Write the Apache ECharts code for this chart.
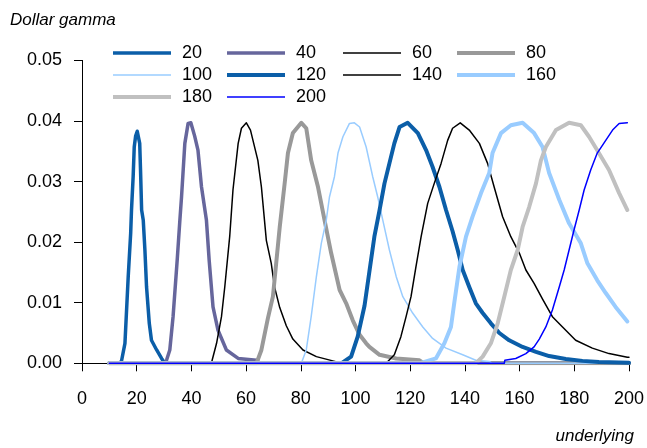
<!DOCTYPE html>
<html>
<head>
<meta charset="utf-8">
<script src="https://cdn.jsdelivr.net/npm/echarts@6/dist/echarts.min.js"></script>
<style>
html,body{margin:0;padding:0;background:#fff;}
#c{width:647px;height:448px;}
</style>
</head>
<body>
<div id="c"></div>
<script>
const xTicks = [0,20,40,60,80,100,120,140,160,180,200];
const yTicks = [0,0.01,0.02,0.03,0.04,0.05];
const seriesNames = ['20','40','60','80','100','120','140','160','180','200'];

const s20 = [[10,0],[14,0],[14.5,0.0005],[15.7,0.0033],[16.3,0.0088],[16.9,0.0143],[17.8,0.0215],[18.1,0.0253],[18.7,0.0308],[19.1,0.0357],[19.6,0.0375],[20.2,0.0383],[20.6,0.0382],[21.1,0.0363],[21.4,0.0319],[21.8,0.0253],[22.4,0.0236],[23.0,0.0187],[23.6,0.0126],[24.6,0.0066],[25.4,0.0038],[27.3,0.0022],[29.1,0.0008],[30.3,0],[200,0]];
const s40 = [[10,0],[30.5,0],[30.9,0.0005],[32.1,0.0022],[33.3,0.0077],[34.8,0.017],[35.8,0.0237],[36.4,0.0275],[37.6,0.0363],[38.8,0.0396],[39.8,0.0397],[41.2,0.0375],[42.4,0.0352],[43.7,0.0291],[45.5,0.0236],[46.5,0.017],[47.9,0.0093],[49.7,0.0055],[52.8,0.0022],[57.1,0.0008],[63.8,0.0005],[65,0],[200,0]];
const s60 = [[10,0],[47.3,0],[49.2,0.0033],[51.0,0.0077],[52.2,0.0126],[54.0,0.0209],[55.2,0.0286],[57.1,0.0363],[58.3,0.0388],[60.1,0.0397],[61.6,0.0385],[64.3,0.0335],[65.6,0.0291],[67.4,0.0203],[69.2,0.0165],[70.4,0.0126],[72.3,0.0092],[74.7,0.0062],[77.1,0.0040],[80.8,0.0022],[85.7,0.0011],[91.7,0.0004],[95,0],[200,0]];
const s80 = [[10,0],[63.8,0],[65.6,0.0022],[68.0,0.0075],[69.8,0.011],[71.0,0.0165],[72.3,0.0225],[74.1,0.0297],[75.3,0.0347],[77.1,0.038],[80.2,0.0397],[82.0,0.0388],[83.8,0.0335],[86.3,0.0291],[88.7,0.0236],[91.1,0.0182],[94.2,0.0121],[96.6,0.0099],[99.0,0.0071],[101.5,0.0047],[103.9,0.0033],[105.1,0.0027],[108.8,0.0014],[114.9,0.0008],[123.4,0.0005],[125,0],[200,0]];
const s100 = [[10,0],[80.2,0],[82.0,0.0022],[83.8,0.0077],[85.7,0.0143],[87.5,0.0198],[89.3,0.0236],[90.5,0.0275],[92.3,0.0308],[93.6,0.0347],[95.4,0.0374],[97.8,0.0396],[99.6,0.0397],[101.5,0.039],[103.9,0.0357],[106.3,0.0308],[108.1,0.0275],[110.0,0.0236],[112.4,0.0187],[114.9,0.0143],[117.3,0.011],[120.9,0.0083],[124.6,0.006],[128.2,0.0041],[133.1,0.0025],[139.2,0.0014],[144.0,0.0005],[148.9,0.0003],[150,0],[200,0]];
const s120 = [[10,0],[94.8,0],[98.4,0.0011],[100.8,0.0044],[103.3,0.0095],[105.1,0.0152],[106.9,0.0209],[108.8,0.0253],[110.6,0.0297],[112.4,0.033],[114.2,0.0363],[116.1,0.039],[119.1,0.0397],[122.8,0.038],[125.8,0.0352],[128.2,0.0324],[130.7,0.0291],[133.1,0.0253],[135.5,0.0218],[137.5,0.0185],[139.2,0.0154],[141.6,0.0126],[144.0,0.0099],[146.5,0.0083],[149.5,0.0066],[152.6,0.005],[156.2,0.0038],[161.1,0.0027],[166.0,0.0019],[170.8,0.0012],[176.9,0.0007],[183.0,0.0004],[189.0,0.0002],[200,0.0001]];
const s140 = [[10,0],[111.2,0],[114.2,0.0014],[116.6,0.0044],[118.5,0.0077],[120.3,0.011],[122.1,0.0159],[124.0,0.0209],[126.4,0.0264],[128.8,0.0297],[131.3,0.033],[133.7,0.0368],[135.5,0.0388],[138.3,0.0397],[141.6,0.0385],[145.3,0.0363],[148.3,0.033],[150.7,0.0291],[153.8,0.0242],[156.8,0.0209],[159.9,0.0182],[162.3,0.0154],[165.3,0.0132],[168.4,0.0106],[172.0,0.0077],[175.7,0.006],[180.5,0.0038],[186.6,0.0025],[192.7,0.0016],[199.4,0.001],[200,0.001]];
const s160 = [[10,0],[123.4,0],[129.4,0.0008],[132.5,0.0033],[134.9,0.006],[136.1,0.0099],[138.0,0.0159],[140.4,0.0209],[142.8,0.0242],[145.9,0.0281],[148.9,0.0314],[150.1,0.0347],[153.2,0.038],[156.8,0.0393],[161.1,0.0397],[165.3,0.038],[168.4,0.0357],[170.8,0.0314],[174.5,0.027],[178.1,0.0231],[182.4,0.0198],[184.8,0.0165],[188.4,0.0137],[191.5,0.0116],[195.1,0.0093],[199.4,0.0069]];
const s180 = [[10,0],[144.0,0],[146.5,0.0011],[149.5,0.0033],[152.0,0.0066],[154.4,0.011],[156.8,0.0154],[159.3,0.0187],[161.1,0.0225],[163.5,0.0258],[166.0,0.0297],[167.8,0.0335],[169.6,0.0357],[173.3,0.0385],[178.1,0.0397],[182.4,0.0393],[185.4,0.0374],[189.0,0.0347],[192.7,0.0319],[196.4,0.0281],[199.4,0.0253]];
const s200 = [[10,0],[154.4,0],[154.6,0.0005],[158.6,0.0008],[162.3,0.0016],[165.3,0.0027],[167.2,0.0040],[169.6,0.006],[172.0,0.0088],[174.5,0.0126],[176.3,0.0154],[178.1,0.0187],[179.9,0.022],[181.8,0.0253],[183.6,0.0286],[186.0,0.0319],[188.4,0.0347],[191.5,0.0368],[194.0,0.0385],[196.4,0.0396],[199.4,0.0397]];

const seriesData = [s20,s40,s60,s80,s100,s120,s140,s160,s180,s200];
const colors = ['#0b5ea8','#66669c','#000000','#999999','#99ccff','#0b5ea8','#000000','#99ccff','#c0c0c0','#0000ff'];
const widths = [3.5,3.5,1.5,4,1.5,4,1.5,4,4,1.5];

const legendCols = [113,227,343,457];
const legendRows = [53,75,97];

const chart = echarts.init(document.getElementById('c'), null, {renderer:'canvas'});

const legends = seriesNames.map((n,i)=>({
  show: true,
  data:[n],
  left: legendCols[i%4],
  top: legendRows[Math.floor(i/4)] - 10,
  icon: 'rect',
  itemWidth: 58,
  itemHeight: widths[i],
  padding: 0,
  selectedMode: false,
  textStyle:{fontFamily:'Liberation Sans, Arial', fontSize:18, lineHeight:20, height:20, color:'#000', padding:[0,0,0,6], verticalAlign:'middle'}
}));

const series = seriesNames.map((n,i)=>({
  name:n,
  type:'line',
  data: seriesData[i],
  symbol:'none',
  showSymbol:false,
  smooth:false,
  lineStyle:{color:colors[i], width:widths[i], cap:'round', join:'round'},
  itemStyle:{color:colors[i]}
}));

chart.setOption({
  animation:false,
  backgroundColor:'#fff',
  color: colors,
  grid:{left:82, right:17, top:60.4, bottom:84.7, containLabel:false},
  legend: legends,
  xAxis:{
    type:'value', min:0, max:200, interval:20,
    axisLine:{show:true, onZero:false, lineStyle:{color:'#000', width:1}},
    axisTick:{show:true, length:8, inside:false, lineStyle:{color:'#000'}},
    axisLabel:{margin:27, color:'#000', fontFamily:'Liberation Sans, Arial', fontSize:18},
    splitLine:{show:false}
  },
  yAxis:{
    type:'value', min:0, max:0.05, interval:0.01,
    axisLine:{show:true, lineStyle:{color:'#000', width:1}},
    axisTick:{show:true, length:8, inside:false, lineStyle:{color:'#000'}},
    axisLabel:{margin:20, color:'#000', fontFamily:'Liberation Sans, Arial', fontSize:18, formatter:v=>v.toFixed(2)},
    splitLine:{show:false}
  },
  graphic:[
    {type:'text', left:10, top:12, style:{text:'Dollar gamma', font:'italic 17px "Liberation Sans", Arial', fill:'#000'}},
    {type:'text', right:13, top:428, style:{text:'underlying', font:'italic 17px "Liberation Sans", Arial', fill:'#000'}}
  ],
  series: series
});
</script>
</body>
</html>
